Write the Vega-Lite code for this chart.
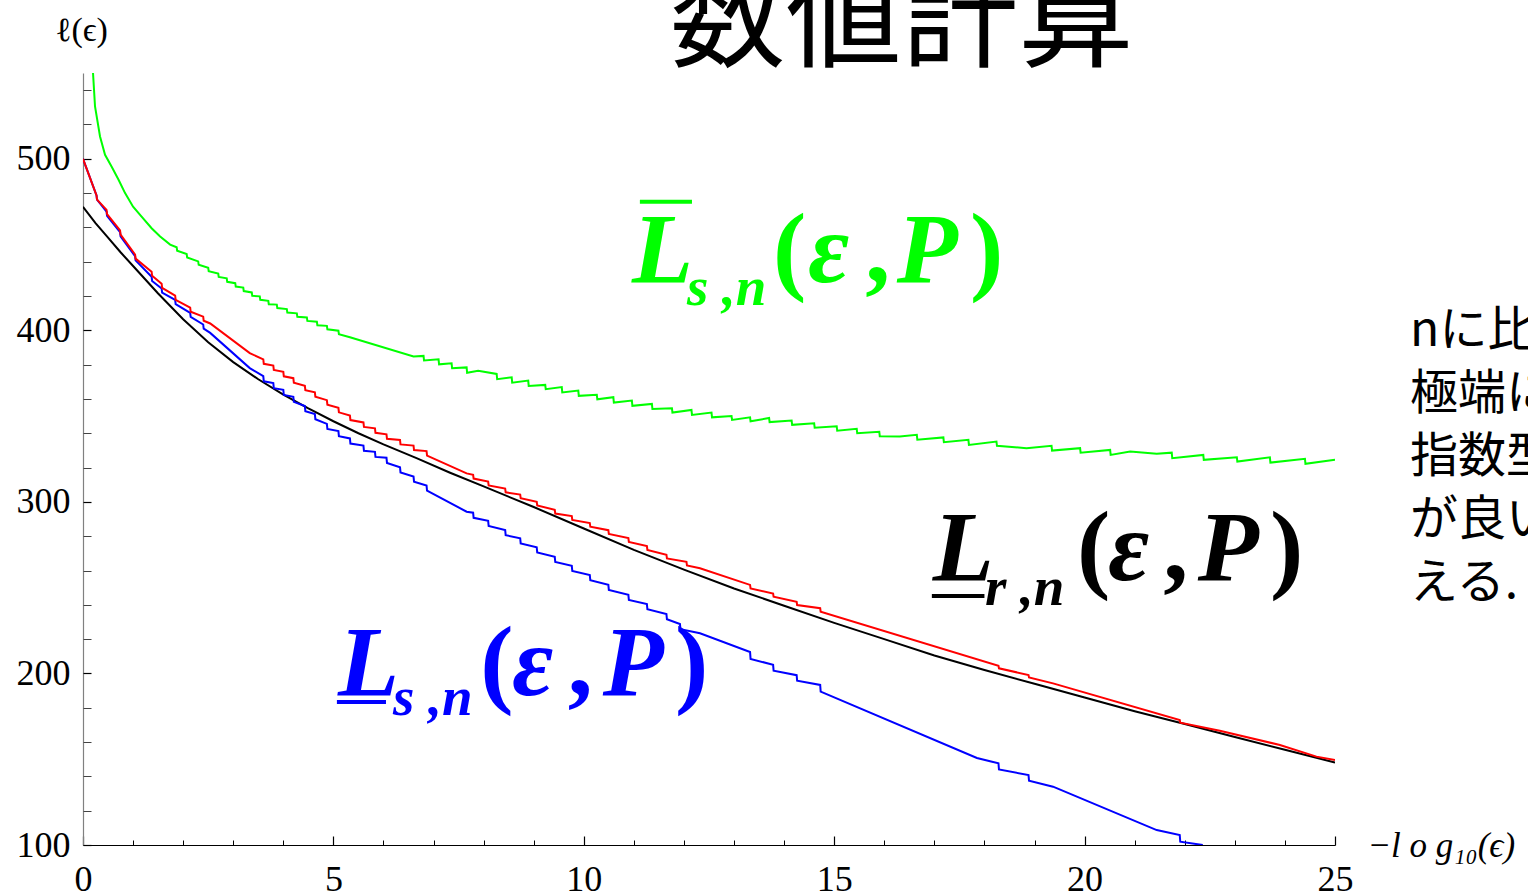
{
  "$schema": "https://vega.github.io/schema/vega-lite/v6.json",
  "width": 1252,
  "height": 772,
  "autosize": {"type": "none"},
  "padding": {"left": 83, "top": 73, "right": 193, "bottom": 51},
  "background": "white",
  "config": {"view": {"stroke": null}, "axis": {"grid": false}, "text": {"font": "Liberation Serif", "fontSize": 100, "fontWeight": "bold", "fontStyle": "italic", "align": "left", "baseline": "alphabetic"}},
  "resolve": {"axis": {"x": "independent", "y": "independent"}},
  "layer": [
    {
      "data": {"values": [
        {"s":"green","x":0.2,"y":550},{"s":"green","x":0.24,"y":530.5},{"s":"green","x":0.34,"y":513},{"s":"green","x":0.44,"y":502.3},{"s":"green","x":0.57,"y":495.5},{"s":"green","x":0.71,"y":487.8},{"s":"green","x":0.84,"y":480},{"s":"green","x":1.0,"y":472.1},{"s":"green","x":1.17,"y":466.3},{"s":"green","x":1.37,"y":459.5},{"s":"green","x":1.54,"y":454.7},{"s":"green","x":1.74,"y":450},
        {"s":"green","x":1.87,"y":448.4},{"s":"green","x":1.88,"y":446.4},{"s":"green","x":2.07,"y":444.5},{"s":"green","x":2.08,"y":442.5},{"s":"green","x":2.3,"y":440.2},{"s":"green","x":2.31,"y":438.2},{"s":"green","x":2.5,"y":436.5},{"s":"green","x":2.51,"y":434.5},{"s":"green","x":2.7,"y":433.1},{"s":"green","x":2.71,"y":431.1},{"s":"green","x":2.87,"y":430.3},{"s":"green","x":2.88,"y":428.3},{"s":"green","x":3.04,"y":427.5},{"s":"green","x":3.05,"y":425.5},{"s":"green","x":3.2,"y":424.9},{"s":"green","x":3.21,"y":422.9},{"s":"green","x":3.37,"y":422.1},{"s":"green","x":3.38,"y":420.1},{"s":"green","x":3.53,"y":419.8},{"s":"green","x":3.54,"y":417.8},{"s":"green","x":3.7,"y":417.2},{"s":"green","x":3.71,"y":415.2},{"s":"green","x":3.87,"y":415.0},{"s":"green","x":3.88,"y":413.0},{"s":"green","x":4.07,"y":412.4},{"s":"green","x":4.08,"y":410.4},{"s":"green","x":4.27,"y":409.9},{"s":"green","x":4.28,"y":407.9},{"s":"green","x":4.47,"y":407.5},{"s":"green","x":4.48,"y":405.5},{"s":"green","x":4.67,"y":405.0},{"s":"green","x":4.68,"y":403.0},{"s":"green","x":4.87,"y":402.6},{"s":"green","x":4.88,"y":400.6},{"s":"green","x":5.1,"y":399.8},{"s":"green","x":5.11,"y":397.8},{"s":"green","x":5.33,"y":396},
        {"s":"green","x":6.6,"y":384.7},{"s":"green","x":6.8,"y":385.1},{"s":"green","x":6.81,"y":382.4},{"s":"green","x":7.1,"y":383.1},{"s":"green","x":7.11,"y":380.2},{"s":"green","x":7.36,"y":380.8},{"s":"green","x":7.37,"y":377.9},{"s":"green","x":7.66,"y":378.4},{"s":"green","x":7.67,"y":375.3},{"s":"green","x":7.89,"y":376.5},{"s":"green","x":8.26,"y":374.6},{"s":"green","x":8.27,"y":371.5},{"s":"green","x":8.56,"y":372.6},{"s":"green","x":8.57,"y":369.5},{"s":"green","x":8.89,"y":370.7},{"s":"green","x":8.9,"y":367.6},{"s":"green","x":9.23,"y":368.2},{"s":"green","x":9.24,"y":365.7},{"s":"green","x":9.56,"y":366.9},{"s":"green","x":9.57,"y":363.8},{"s":"green","x":9.89,"y":364.9},{"s":"green","x":9.9,"y":361.8},{"s":"green","x":10.26,"y":362.4},{"s":"green","x":10.27,"y":359.8},{"s":"green","x":10.59,"y":361.0},{"s":"green","x":10.6,"y":357.9},{"s":"green","x":10.96,"y":359.1},{"s":"green","x":10.97,"y":356.0},{"s":"green","x":11.36,"y":357.1},{"s":"green","x":11.37,"y":354.1},{"s":"green","x":11.76,"y":354.6},{"s":"green","x":11.77,"y":352.1},{"s":"green","x":12.15,"y":353.6},{"s":"green","x":12.16,"y":350.7},{"s":"green","x":12.55,"y":352.1},{"s":"green","x":12.56,"y":349.3},{"s":"green","x":12.95,"y":350.1},{"s":"green","x":12.96,"y":347.8},{"s":"green","x":13.32,"y":349.3},{"s":"green","x":13.33,"y":347.0},{"s":"green","x":13.7,"y":348.9},{"s":"green","x":13.71,"y":346.5},{"s":"green","x":14.15,"y":347.4},{"s":"green","x":14.16,"y":344.9},{"s":"green","x":14.6,"y":345.8},{"s":"green","x":14.61,"y":343.2},{"s":"green","x":15.05,"y":344.1},{"s":"green","x":15.06,"y":341.5},{"s":"green","x":15.45,"y":342.6},{"s":"green","x":15.46,"y":340.0},{"s":"green","x":15.9,"y":340.9},{"s":"green","x":15.91,"y":338.3},
        {"s":"green","x":16.31,"y":338.1},{"s":"green","x":16.65,"y":339.1},{"s":"green","x":16.66,"y":336.2},{"s":"green","x":17.18,"y":337.6},{"s":"green","x":17.19,"y":334.8},{"s":"green","x":17.68,"y":336.2},{"s":"green","x":17.69,"y":333.2},{"s":"green","x":18.24,"y":335.2},{"s":"green","x":18.25,"y":332.7},{"s":"green","x":18.84,"y":331.3},{"s":"green","x":19.34,"y":332.7},{"s":"green","x":19.35,"y":329.9},{"s":"green","x":19.91,"y":331.3},{"s":"green","x":19.92,"y":328.7},{"s":"green","x":20.51,"y":330.3},{"s":"green","x":20.52,"y":327.4},{"s":"green","x":20.91,"y":329.3},{"s":"green","x":21.44,"y":328.0},{"s":"green","x":21.74,"y":328.7},{"s":"green","x":21.75,"y":325.5},{"s":"green","x":22.37,"y":327.4},{"s":"green","x":22.38,"y":324.5},{"s":"green","x":23.04,"y":326.0},{"s":"green","x":23.05,"y":323.5},{"s":"green","x":23.7,"y":326.0},{"s":"green","x":23.71,"y":322.9},{"s":"green","x":24.4,"y":325.1},{"s":"green","x":24.41,"y":322.2},{"s":"green","x":25.0,"y":324.5},
        {"s":"black","x":0,"y":472},{"s":"black","x":0.25,"y":462.5},{"s":"black","x":0.5,"y":454},{"s":"black","x":0.75,"y":445.5},{"s":"black","x":1,"y":437.5},{"s":"black","x":1.5,"y":421.5},{"s":"black","x":2,"y":406.5},{"s":"black","x":2.5,"y":393},{"s":"black","x":3,"y":381.5},{"s":"black","x":3.5,"y":371.5},{"s":"black","x":4,"y":362.5},{"s":"black","x":4.5,"y":354.5},{"s":"black","x":5,"y":347},{"s":"black","x":5.5,"y":340},{"s":"black","x":6,"y":333.5},{"s":"black","x":6.66,"y":325.5},{"s":"black","x":7.33,"y":317},{"s":"black","x":8,"y":309},{"s":"black","x":9,"y":297},{"s":"black","x":10,"y":284.5},{"s":"black","x":11,"y":272},{"s":"black","x":12,"y":260.5},{"s":"black","x":13,"y":249.5},{"s":"black","x":14,"y":239.5},{"s":"black","x":15,"y":229.5},{"s":"black","x":16,"y":220},{"s":"black","x":17,"y":210.5},{"s":"black","x":18,"y":202},{"s":"black","x":19,"y":194},{"s":"black","x":20,"y":186},{"s":"black","x":21,"y":178},{"s":"black","x":22,"y":170.5},{"s":"black","x":23,"y":163},{"s":"black","x":24,"y":155.5},{"s":"black","x":25,"y":148},
        {"s":"blue","x":0,"y":500},{"s":"blue","x":0.27,"y":478.6},{"s":"blue","x":0.28,"y":476.2},{"s":"blue","x":0.47,"y":469.2},{"s":"blue","x":0.48,"y":466.8},{"s":"blue","x":0.74,"y":457.2},{"s":"blue","x":0.75,"y":454.8},{"s":"blue","x":1.04,"y":443.2},{"s":"blue","x":1.05,"y":440.8},{"s":"blue","x":1.37,"y":431.2},{"s":"blue","x":1.38,"y":428.8},{"s":"blue","x":1.57,"y":424.4},{"s":"blue","x":1.58,"y":422},{"s":"blue","x":1.84,"y":417.7},{"s":"blue","x":1.85,"y":415.3},{"s":"blue","x":2.14,"y":410.2},{"s":"blue","x":2.15,"y":407.8},{"s":"blue","x":2.4,"y":403.4},{"s":"blue","x":2.41,"y":401},{"s":"blue","x":2.54,"y":398.5},{"s":"blue","x":3.33,"y":378},
        {"s":"blue","x":3.6,"y":373.3},{"s":"blue","x":3.61,"y":370.3},{"s":"blue","x":3.8,"y":369.3},{"s":"blue","x":3.81,"y":366.3},{"s":"blue","x":4.0,"y":365.3},{"s":"blue","x":4.01,"y":362.3},{"s":"blue","x":4.2,"y":361.3},{"s":"blue","x":4.21,"y":358.3},{"s":"blue","x":4.43,"y":355.9},{"s":"blue","x":4.44,"y":352.9},{"s":"blue","x":4.63,"y":351.2},{"s":"blue","x":4.64,"y":348.2},{"s":"blue","x":4.87,"y":345.5},{"s":"blue","x":4.88,"y":342.5},{"s":"blue","x":5.1,"y":341.3},{"s":"blue","x":5.11,"y":338.3},{"s":"blue","x":5.33,"y":337},{"s":"blue","x":5.34,"y":334},{"s":"blue","x":5.6,"y":332.8},{"s":"blue","x":5.61,"y":329.8},{"s":"blue","x":5.83,"y":329.2},{"s":"blue","x":5.84,"y":326.2},{"s":"blue","x":6.06,"y":325.7},{"s":"blue","x":6.07,"y":322.7},{"s":"blue","x":6.33,"y":320.2},{"s":"blue","x":6.34,"y":317.2},{"s":"blue","x":6.6,"y":314.8},{"s":"blue","x":6.61,"y":311.8},{"s":"blue","x":6.86,"y":309.5},{"s":"blue","x":6.87,"y":306.5},
        {"s":"blue","x":7.66,"y":294.3},{"s":"blue","x":7.79,"y":293.7},{"s":"blue","x":7.8,"y":290.7},{"s":"blue","x":8.09,"y":289},{"s":"blue","x":8.1,"y":286},{"s":"blue","x":8.43,"y":283.6},{"s":"blue","x":8.44,"y":280.6},{"s":"blue","x":8.73,"y":278.8},{"s":"blue","x":8.74,"y":275.8},{"s":"blue","x":9.06,"y":273.5},{"s":"blue","x":9.07,"y":270.5},{"s":"blue","x":9.42,"y":268},{"s":"blue","x":9.43,"y":265},{"s":"blue","x":9.76,"y":262.8},{"s":"blue","x":9.77,"y":259.8},{"s":"blue","x":10.12,"y":257.3},{"s":"blue","x":10.13,"y":254.3},{"s":"blue","x":10.49,"y":251.7},{"s":"blue","x":10.5,"y":248.7},{"s":"blue","x":10.89,"y":245.8},{"s":"blue","x":10.9,"y":242.8},{"s":"blue","x":11.26,"y":240.4},{"s":"blue","x":11.27,"y":237.4},{"s":"blue","x":11.65,"y":234.6},{"s":"blue","x":11.66,"y":231.6},{"s":"blue","x":11.92,"y":228.8},{"s":"blue","x":11.93,"y":225.8},{"s":"blue","x":12.32,"y":223.4},
        {"s":"blue","x":13.32,"y":212.5},{"s":"blue","x":13.33,"y":208.5},{"s":"blue","x":13.78,"y":205},{"s":"blue","x":13.79,"y":201.6},{"s":"blue","x":14.25,"y":199},{"s":"blue","x":14.26,"y":195.8},{"s":"blue","x":14.72,"y":193.3},{"s":"blue","x":14.73,"y":189.4},{"s":"blue","x":17.85,"y":150.7},{"s":"blue","x":18.28,"y":147.6},{"s":"blue","x":18.29,"y":144},{"s":"blue","x":18.88,"y":140.8},{"s":"blue","x":18.89,"y":137.5},{"s":"blue","x":19.37,"y":134},{"s":"blue","x":21.44,"y":108.7},{"s":"blue","x":21.9,"y":105.8},{"s":"blue","x":21.91,"y":101.9},{"s":"blue","x":22.36,"y":100},
        {"s":"red","x":0,"y":500},{"s":"red","x":0.27,"y":478.6},{"s":"red","x":0.28,"y":476.2},{"s":"red","x":0.47,"y":470.2},{"s":"red","x":0.48,"y":467.8},{"s":"red","x":0.74,"y":458.2},{"s":"red","x":0.75,"y":455.8},{"s":"red","x":1.04,"y":444.2},{"s":"red","x":1.05,"y":441.8},{"s":"red","x":1.37,"y":434.2},{"s":"red","x":1.38,"y":431.8},{"s":"red","x":1.57,"y":427.2},{"s":"red","x":1.58,"y":424.8},{"s":"red","x":1.84,"y":420.2},{"s":"red","x":1.85,"y":417.8},{"s":"red","x":2.14,"y":413.2},{"s":"red","x":2.15,"y":410.8},{"s":"red","x":2.4,"y":408},{"s":"red","x":2.41,"y":405.6},{"s":"red","x":2.54,"y":404},{"s":"red","x":3.33,"y":386.7},
        {"s":"red","x":3.6,"y":383.1},{"s":"red","x":3.61,"y":380.5},{"s":"red","x":3.8,"y":379.5},{"s":"red","x":3.81,"y":376.9},{"s":"red","x":4.0,"y":375.8},{"s":"red","x":4.01,"y":373.2},{"s":"red","x":4.2,"y":372.1},{"s":"red","x":4.21,"y":369.5},{"s":"red","x":4.43,"y":367.7},{"s":"red","x":4.44,"y":365.1},{"s":"red","x":4.63,"y":363.9},{"s":"red","x":4.64,"y":361.3},{"s":"red","x":4.87,"y":359.3},{"s":"red","x":4.88,"y":356.7},{"s":"red","x":5.1,"y":354.8},{"s":"red","x":5.11,"y":352.2},{"s":"red","x":5.33,"y":350.3},{"s":"red","x":5.34,"y":347.7},{"s":"red","x":5.6,"y":346.3},{"s":"red","x":5.61,"y":343.7},{"s":"red","x":5.83,"y":342.9},{"s":"red","x":5.84,"y":340.3},{"s":"red","x":6.06,"y":339.4},{"s":"red","x":6.07,"y":336.8},{"s":"red","x":6.33,"y":336.1},{"s":"red","x":6.34,"y":333.5},{"s":"red","x":6.6,"y":332.8},{"s":"red","x":6.61,"y":330.2},{"s":"red","x":6.86,"y":329.6},{"s":"red","x":6.87,"y":327},
        {"s":"red","x":7.66,"y":316.6},{"s":"red","x":7.79,"y":315.8},{"s":"red","x":7.8,"y":313.6},{"s":"red","x":8.09,"y":311.8},{"s":"red","x":8.1,"y":309.6},{"s":"red","x":8.43,"y":307.8},{"s":"red","x":8.44,"y":305.6},{"s":"red","x":8.73,"y":304.3},{"s":"red","x":8.74,"y":302.1},{"s":"red","x":9.06,"y":300.1},{"s":"red","x":9.07,"y":297.9},{"s":"red","x":9.42,"y":295.4},{"s":"red","x":9.43,"y":293.2},{"s":"red","x":9.76,"y":291.7},{"s":"red","x":9.77,"y":289.5},{"s":"red","x":10.12,"y":287.7},{"s":"red","x":10.13,"y":285.5},{"s":"red","x":10.49,"y":283.5},{"s":"red","x":10.5,"y":281.3},{"s":"red","x":10.89,"y":278.9},{"s":"red","x":10.9,"y":276.7},{"s":"red","x":11.26,"y":274.2},{"s":"red","x":11.27,"y":272},{"s":"red","x":11.65,"y":269.2},{"s":"red","x":11.66,"y":267},{"s":"red","x":12.05,"y":265.1},{"s":"red","x":12.06,"y":262.9},{"s":"red","x":12.32,"y":261.3},
        {"s":"red","x":13.32,"y":251.6},{"s":"red","x":13.33,"y":249.6},{"s":"red","x":13.78,"y":246.6},{"s":"red","x":13.79,"y":244.7},{"s":"red","x":14.25,"y":241.8},{"s":"red","x":14.26,"y":239.9},{"s":"red","x":14.72,"y":238},{"s":"red","x":14.73,"y":236},{"s":"red","x":18.28,"y":204.4},{"s":"red","x":18.29,"y":203},{"s":"red","x":18.88,"y":199.1},{"s":"red","x":18.89,"y":197.7},{"s":"red","x":19.37,"y":194.2},{"s":"red","x":21.9,"y":172.9},{"s":"red","x":21.91,"y":171.3},{"s":"red","x":22.7,"y":166.6},{"s":"red","x":23.9,"y":158.3},{"s":"red","x":24.63,"y":151.5},{"s":"red","x":25,"y":149.6}
      ]},
      "mark": {"type": "line", "strokeWidth": 2, "clip": true},
      "encoding": {
        "x": {"field": "x", "type": "quantitative", "scale": {"domain": [0, 25], "nice": false, "zero": false},
          "axis": {"orient": "bottom", "values": [0, 5, 10, 15, 20, 25], "ticks": false, "domain": true, "domainColor": "black", "domainWidth": 1.2, "labelFont": "Liberation Serif", "labelFontSize": 36, "labelColor": "black", "labelPadding": 17, "labelFlush": false, "labelOverlap": false, "title": "−l o g₁₀(ϵ)", "titleFont": "Liberation Serif", "titleFontStyle": "italic", "titleFontWeight": "normal", "titleFontSize": 35, "titleColor": "black", "titleX": 1284, "titleY": 0, "titleAlign": "left", "titleBaseline": "middle", "titleAngle": 0}},
        "y": {"field": "y", "type": "quantitative", "scale": {"domain": [100, 550], "nice": false, "zero": false},
          "axis": {"orient": "left", "values": [100, 200, 300, 400, 500], "ticks": false, "domain": true, "domainColor": "#808080", "domainWidth": 1.2, "labelFont": "Liberation Serif", "labelFontSize": 36, "labelColor": "black", "labelPadding": 13, "labelOverlap": false, "labelFlush": false, "title": "ℓ(ϵ)", "titleFont": "Liberation Serif", "titleFontStyle": "normal", "titleFontWeight": "normal", "titleFontSize": 34, "titleColor": "black", "titleAngle": 0, "titleX": -2, "titleY": -43, "titleAlign": "center", "titleBaseline": "middle"}},
        "color": {"field": "s", "type": "nominal", "scale": {"domain": ["green", "black", "blue", "red"], "range": ["#00ff00", "#000000", "#0000ff", "#ff0000"]}, "legend": null}
      }
    },
    {
      "data": {"values": [{}]},
      "mark": {"type": "rule", "color": "#00ff00", "strokeWidth": 4},
      "encoding": {
        "x": {"datum": 11.12, "type": "quantitative", "axis": {"orient": "bottom", "values": [0, 5, 10, 15, 20, 25], "labels": false, "domain": false, "ticks": true, "tickSize": -9, "tickColor": "black", "tickWidth": 1.2, "title": null}},
        "x2": {"datum": 12.16},
        "y": {"datum": 474.9, "type": "quantitative", "axis": {"orient": "left", "values": [100, 200, 300, 400, 500], "labels": false, "domain": false, "ticks": true, "tickSize": -8, "tickColor": "black", "tickWidth": 1.2, "title": null}}
      }
    },
    {
      "data": {"values": [{}]},
      "mark": {"type": "rule", "color": "#000000", "strokeWidth": 4},
      "encoding": {
        "x": {"datum": 16.95, "type": "quantitative", "axis": {"orient": "bottom", "values": [1, 2, 3, 4, 6, 7, 8, 9, 11, 12, 13, 14, 16, 17, 18, 19, 21, 22, 23, 24], "labels": false, "domain": false, "ticks": true, "tickSize": -5, "tickColor": "black", "tickWidth": 1, "title": null}},
        "x2": {"datum": 18.0},
        "y": {"datum": 245.2, "type": "quantitative", "axis": {"orient": "left", "values": [120, 140, 160, 180, 220, 240, 260, 280, 320, 340, 360, 380, 420, 440, 460, 480, 520, 540], "labels": false, "domain": false, "ticks": true, "tickSize": -8, "tickColor": "#444444", "tickWidth": 1, "title": null}}
      }
    },
    {
      "data": {"values": [{}]},
      "mark": {"type": "rule", "color": "#0000ff", "strokeWidth": 4},
      "encoding": {"x": {"datum": 5.07, "type": "quantitative", "axis": null}, "x2": {"datum": 6.05}, "y": {"datum": 183.4, "type": "quantitative", "axis": null}}
    },
    {"data": {"values": [{}]}, "mark": {"type": "text", "text": "L", "color": "#00ff00"}, "encoding": {"x": {"datum": 10.96, "type": "quantitative", "axis": null}, "y": {"datum": 428.3, "type": "quantitative", "axis": null}}},
    {"data": {"values": [{}]}, "mark": {"type": "text", "text": "s ,n", "fontSize": 55, "color": "#00ff00"}, "encoding": {"x": {"datum": 12.06, "type": "quantitative", "axis": null}, "y": {"datum": 414.9, "type": "quantitative", "axis": null}}},
    {"data": {"values": [{}]}, "mark": {"type": "text", "text": "(", "fontStyle": "normal", "color": "#00ff00"}, "encoding": {"x": {"datum": 13.78, "type": "quantitative", "axis": null}, "y": {"datum": 428.3, "type": "quantitative", "axis": null}}},
    {"data": {"values": [{}]}, "mark": {"type": "text", "text": "ε", "color": "#00ff00"}, "encoding": {"x": {"datum": 14.48, "type": "quantitative", "axis": null}, "y": {"datum": 428.3, "type": "quantitative", "axis": null}}},
    {"data": {"values": [{}]}, "mark": {"type": "text", "text": ",", "fontStyle": "normal", "color": "#00ff00"}, "encoding": {"x": {"datum": 15.62, "type": "quantitative", "axis": null}, "y": {"datum": 428.3, "type": "quantitative", "axis": null}}},
    {"data": {"values": [{}]}, "mark": {"type": "text", "text": "P", "color": "#00ff00"}, "encoding": {"x": {"datum": 16.25, "type": "quantitative", "axis": null}, "y": {"datum": 428.3, "type": "quantitative", "axis": null}}},
    {"data": {"values": [{}]}, "mark": {"type": "text", "text": ")", "fontStyle": "normal", "color": "#00ff00"}, "encoding": {"x": {"datum": 17.71, "type": "quantitative", "axis": null}, "y": {"datum": 428.3, "type": "quantitative", "axis": null}}},
    {"data": {"values": [{}]}, "mark": {"type": "text", "text": "L", "color": "#000000"}, "encoding": {"x": {"datum": 16.97, "type": "quantitative", "axis": null}, "y": {"datum": 254.5, "type": "quantitative", "axis": null}}},
    {"data": {"values": [{}]}, "mark": {"type": "text", "text": "r ,n", "fontSize": 55, "color": "#000000"}, "encoding": {"x": {"datum": 18.01, "type": "quantitative", "axis": null}, "y": {"datum": 240, "type": "quantitative", "axis": null}}},
    {"data": {"values": [{}]}, "mark": {"type": "text", "text": "(", "fontStyle": "normal", "color": "#000000"}, "encoding": {"x": {"datum": 19.85, "type": "quantitative", "axis": null}, "y": {"datum": 254.5, "type": "quantitative", "axis": null}}},
    {"data": {"values": [{}]}, "mark": {"type": "text", "text": "ε", "color": "#000000"}, "encoding": {"x": {"datum": 20.47, "type": "quantitative", "axis": null}, "y": {"datum": 254.5, "type": "quantitative", "axis": null}}},
    {"data": {"values": [{}]}, "mark": {"type": "text", "text": ",", "fontStyle": "normal", "color": "#000000"}, "encoding": {"x": {"datum": 21.57, "type": "quantitative", "axis": null}, "y": {"datum": 254.5, "type": "quantitative", "axis": null}}},
    {"data": {"values": [{}]}, "mark": {"type": "text", "text": "P", "color": "#000000"}, "encoding": {"x": {"datum": 22.26, "type": "quantitative", "axis": null}, "y": {"datum": 254.5, "type": "quantitative", "axis": null}}},
    {"data": {"values": [{}]}, "mark": {"type": "text", "text": ")", "fontStyle": "normal", "color": "#000000"}, "encoding": {"x": {"datum": 23.7, "type": "quantitative", "axis": null}, "y": {"datum": 254.5, "type": "quantitative", "axis": null}}},
    {"data": {"values": [{}]}, "mark": {"type": "text", "text": "L", "color": "#0000ff"}, "encoding": {"x": {"datum": 5.09, "type": "quantitative", "axis": null}, "y": {"datum": 187.5, "type": "quantitative", "axis": null}}},
    {"data": {"values": [{}]}, "mark": {"type": "text", "text": "s ,n", "fontSize": 55, "color": "#0000ff"}, "encoding": {"x": {"datum": 6.19, "type": "quantitative", "axis": null}, "y": {"datum": 175.8, "type": "quantitative", "axis": null}}},
    {"data": {"values": [{}]}, "mark": {"type": "text", "text": "(", "fontStyle": "normal", "color": "#0000ff"}, "encoding": {"x": {"datum": 7.93, "type": "quantitative", "axis": null}, "y": {"datum": 187.5, "type": "quantitative", "axis": null}}},
    {"data": {"values": [{}]}, "mark": {"type": "text", "text": "ε", "color": "#0000ff"}, "encoding": {"x": {"datum": 8.57, "type": "quantitative", "axis": null}, "y": {"datum": 187.5, "type": "quantitative", "axis": null}}},
    {"data": {"values": [{}]}, "mark": {"type": "text", "text": ",", "fontStyle": "normal", "color": "#0000ff"}, "encoding": {"x": {"datum": 9.68, "type": "quantitative", "axis": null}, "y": {"datum": 187.5, "type": "quantitative", "axis": null}}},
    {"data": {"values": [{}]}, "mark": {"type": "text", "text": "P", "color": "#0000ff"}, "encoding": {"x": {"datum": 10.38, "type": "quantitative", "axis": null}, "y": {"datum": 187.5, "type": "quantitative", "axis": null}}},
    {"data": {"values": [{}]}, "mark": {"type": "text", "text": ")", "fontStyle": "normal", "color": "#0000ff"}, "encoding": {"x": {"datum": 11.82, "type": "quantitative", "axis": null}, "y": {"datum": 187.5, "type": "quantitative", "axis": null}}},
    {
      "data": {"values": [{}]},
      "mark": {"type": "text", "text": ["nに比べて", "極端に", "指数型", "が良いと", "える."], "font": "Noto Sans CJK JP", "fontSize": 48, "fontWeight": "normal", "fontStyle": "normal", "lineHeight": 63, "color": "black"},
      "encoding": {"x": {"datum": 26.5, "type": "quantitative", "axis": null}, "y": {"datum": 391, "type": "quantitative", "axis": null}}
    },
    {
      "data": {"values": [{}]},
      "mark": {"type": "text", "text": "数値計算", "font": "Noto Sans CJK JP", "fontSize": 116, "fontWeight": "normal", "fontStyle": "normal", "color": "black", "align": "center"},
      "encoding": {"x": {"datum": 16.35, "type": "quantitative", "axis": null}, "y": {"datum": 558.9, "type": "quantitative", "axis": null}}
    }
  ]
}
